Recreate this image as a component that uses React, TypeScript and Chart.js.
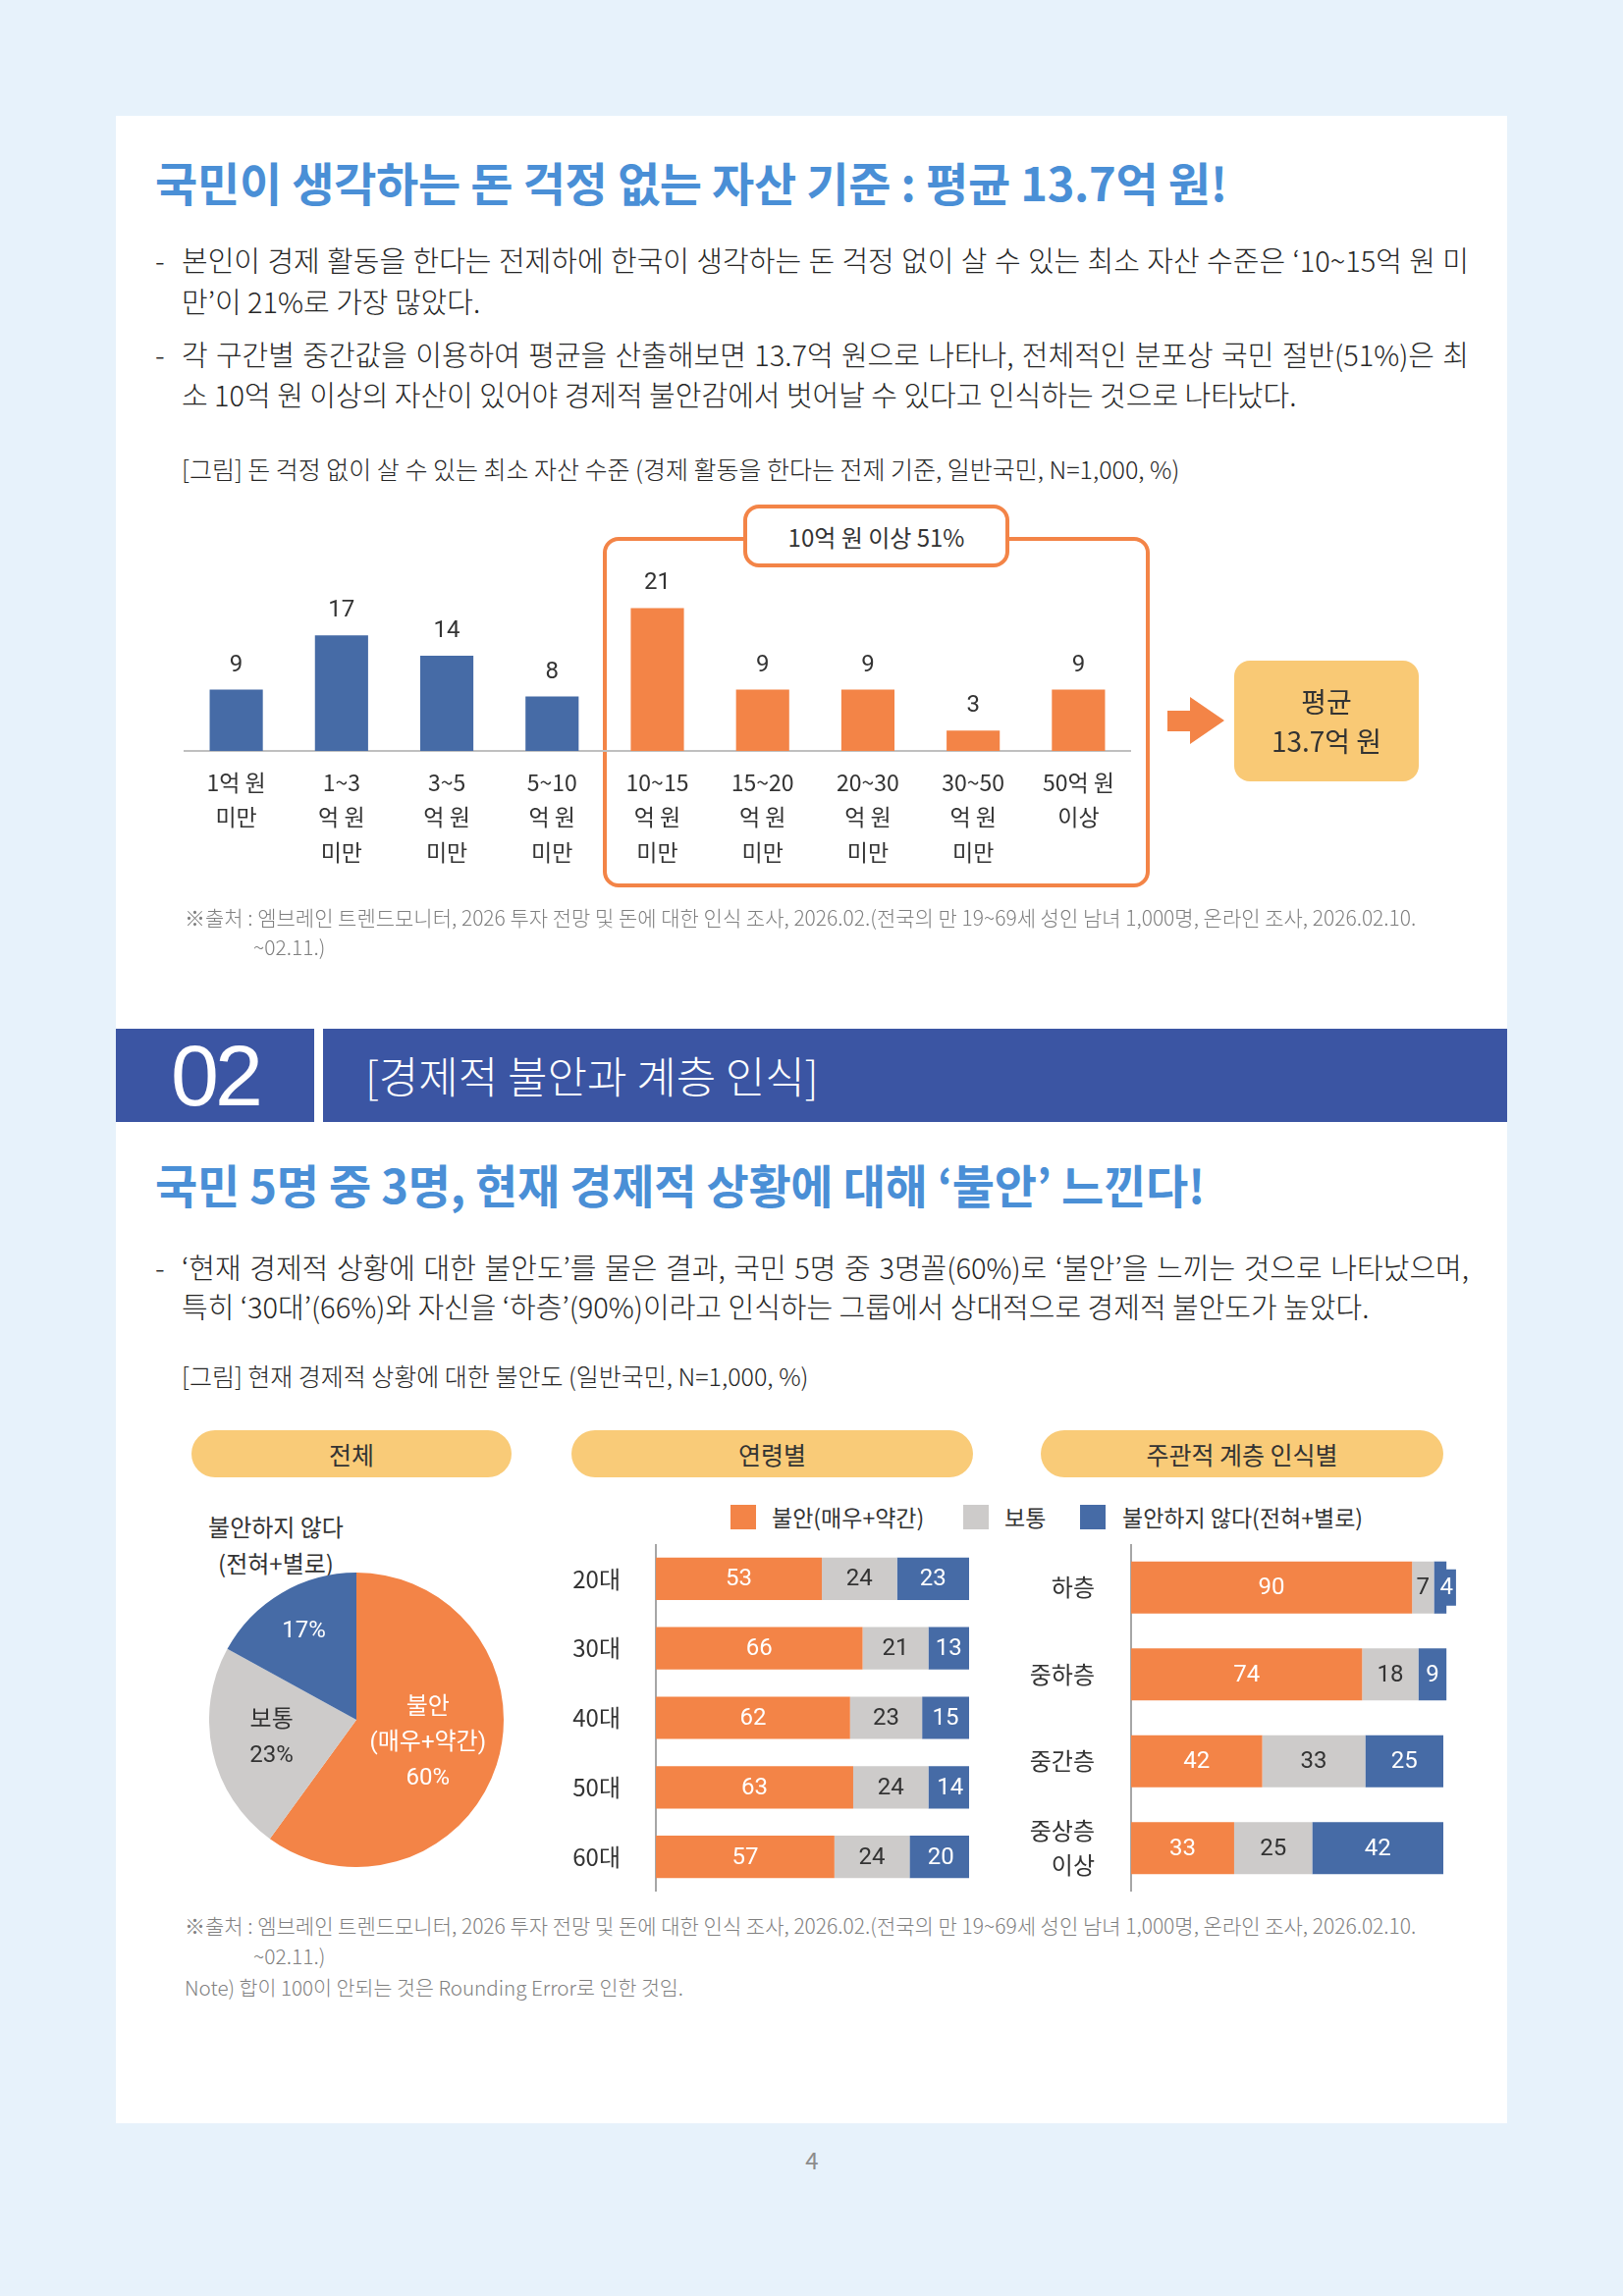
import React, { useEffect, useRef } from "react";
import { Chart, registerables } from "chart.js";

Chart.register(...registerables);

const FONT = "'Noto Sans CJK KR', 'Noto Sans', sans-serif";
const NUM_FONT = "Roboto, 'Noto Sans CJK KR', sans-serif";

const BG = "#e7f2fb";
const TITLE_BLUE = "#4a8fd6";
const BAND = "#3b55a3";
const BLUE = "#466ba6";
const ORANGE = "#f38447";
const GRAY = "#cdcbca";
const PILL = "#f9cb78";
const TEXT = "#333333";
const BODY_TEXT = "#262626";
const NOTE = "#7f7f7f";

// 돈 걱정 없이 살 수 있는 최소 자산 수준 (%)
const assetLabels = [
  ["1억 원", "미만"],
  ["1~3", "억 원", "미만"],
  ["3~5", "억 원", "미만"],
  ["5~10", "억 원", "미만"],
  ["10~15", "억 원", "미만"],
  ["15~20", "억 원", "미만"],
  ["20~30", "억 원", "미만"],
  ["30~50", "억 원", "미만"],
  ["50억 원", "이상"],
];
const assetShares = [9, 17, 14, 8, 21, 9, 9, 3, 9];
const assetIsHigh = [false, false, false, false, true, true, true, true, true];
const highGroupLabel = "10억 원 이상 51%";
const averageLines = ["평균", "13.7억 원"];

// 현재 경제적 상황에 대한 불안도 - 전체 (%)
const seriesNames = ["불안(매우+약간)", "보통", "불안하지 않다(전혀+별로)"];
const overallShares = [60, 23, 17];
const overallInnerNames = [["불안", "(매우+약간)"], ["보통"], []];
const overallOuterName = ["불안하지 않다", "(전혀+별로)"];

// 연령별 (%)
const ageGroups = ["20대", "30대", "40대", "50대", "60대"];
const ageAnxious = [53, 66, 62, 63, 57];
const ageNeutral = [24, 21, 23, 24, 24];
const ageCalm = [23, 13, 15, 14, 20];

// 주관적 계층 인식별 (%)
const classGroups = ["하층", "중하층", "중간층", ["중상층", "이상"]];
const classAnxious = [90, 74, 42, 33];
const classNeutral = [7, 18, 33, 25];
const classCalm = [4, 9, 25, 42];

const seriesColors = [ORANGE, GRAY, BLUE];
const seriesTextColors = ["#ffffff", TEXT, "#ffffff"];

// value above each column
const columnValueLabels = {
  id: "columnValueLabels",
  afterDatasetsDraw(chart: any, _args: any, opts: any) {
    const ctx = chart.ctx;
    ctx.save();
    ctx.font = opts.font;
    ctx.fillStyle = opts.color;
    ctx.textAlign = "center";
    ctx.textBaseline = "middle";
    const ds = chart.data.datasets[0];
    chart.getDatasetMeta(0).data.forEach((bar: any, i: number) => {
      ctx.fillText(String(ds.data[i]), bar.x, bar.y - opts.offset);
    });
    ctx.restore();
  },
};

// value in the middle of each stacked segment
const segmentLabels = {
  id: "segmentLabels",
  afterDatasetsDraw(chart: any, _args: any, opts: any) {
    const ctx = chart.ctx;
    ctx.save();
    ctx.font = opts.font;
    ctx.textAlign = "center";
    ctx.textBaseline = "middle";
    chart.data.datasets.forEach((ds: any, di: number) => {
      chart.getDatasetMeta(di).data.forEach((bar: any, i: number) => {
        const text = String(ds.data[i]);
        const left = Math.min(bar.x, bar.base);
        const right = Math.max(bar.x, bar.base);
        const tw = ctx.measureText(text).width;
        let cx = (left + right) / 2;
        if (tw + 6 > right - left) {
          cx = right;
          ctx.fillStyle = ds.backgroundColor;
          ctx.fillRect(cx - tw / 2 - 3, bar.y - opts.boxHeight / 2, tw + 6, opts.boxHeight);
        }
        ctx.fillStyle = opts.colors[di];
        ctx.fillText(text, cx, bar.y + 1);
      });
    });
    ctx.restore();
  },
};

// names and shares inside the pie slices
const sliceLabels = {
  id: "sliceLabels",
  afterDatasetsDraw(chart: any, _args: any, opts: any) {
    const ctx = chart.ctx;
    ctx.save();
    ctx.font = opts.font;
    ctx.textAlign = "center";
    ctx.textBaseline = "middle";
    const ds = chart.data.datasets[0];
    chart.getDatasetMeta(0).data.forEach((arc: any, i: number) => {
      const p = arc.getProps(["x", "y", "startAngle", "endAngle", "outerRadius"], true);
      const mid = (p.startAngle + p.endAngle) / 2;
      const r = p.outerRadius * opts.radii[i];
      const cx = p.x + Math.cos(mid) * r;
      const cy = p.y + Math.sin(mid) * r;
      const lines = [...opts.names[i], `${ds.data[i]}%`];
      ctx.fillStyle = opts.colors[i];
      lines.forEach((t: string, k: number) => {
        ctx.fillText(t, cx, cy + (k - (lines.length - 1) / 2) * opts.lineHeight);
      });
    });
    ctx.restore();
  },
};

function stackedConfig(labels: any[], values: number[][], axisWidth: number, pad: number, thickness: number, rightPad: number) {
  return {
    type: "bar" as const,
    data: {
      labels,
      datasets: values.map((v, i) => ({
        label: seriesNames[i],
        data: v,
        backgroundColor: seriesColors[i],
        barPercentage: thickness,
        categoryPercentage: 1,
        clip: false as const,
      })),
    },
    options: {
      indexAxis: "y" as const,
      animation: false as const,
      responsive: false,
      layout: { padding: { right: rightPad } },
      plugins: {
        legend: { display: false },
        tooltip: { enabled: false },
        segmentLabels: { font: `24px ${NUM_FONT}`, colors: seriesTextColors, boxHeight: 37 },
      },
      scales: {
        x: { display: false, stacked: true, min: 0, max: 100 },
        y: {
          stacked: true,
          grid: { display: false, drawTicks: false },
          border: { display: true, color: "#a6a6a6", width: 2 },
          ticks: { color: TEXT, font: { family: FONT, size: 24, lineHeight: 1.45 }, padding: pad, autoSkip: false },
          afterFit: (s: any) => {
            s.width = axisWidth;
            s.paddingTop = 0;
            s.paddingBottom = 0;
          },
        },
      },
    },
    plugins: [segmentLabels],
  };
}

type LineProps = {
  x: number;
  y: number;
  w?: number;
  size: number;
  text: string;
  justify?: boolean;
  color?: string;
  weight?: number;
  ls?: number;
  align?: "left" | "center" | "right";
  family?: string;
};

function Line({ x, y, w, size, text, justify, color, weight, ls, align, family }: LineProps) {
  const h = Math.round(size * 1.5);
  return (
    <div
      style={{
        position: "absolute",
        left: x,
        top: y - h / 2,
        width: w,
        height: h,
        lineHeight: `${h}px`,
        fontSize: size,
        fontWeight: weight ?? 400,
        color: color ?? TEXT,
        letterSpacing: ls ?? 0,
        whiteSpace: "nowrap",
        fontFamily: family ?? FONT,
        textAlign: justify ? "justify" : align ?? "left",
        textAlignLast: justify ? "justify" : align ?? "left",
      } as React.CSSProperties}
    >
      {text}
    </div>
  );
}

function Pill({ x, y, w, text }: { x: number; y: number; w: number; text: string }) {
  return (
    <div
      style={{
        position: "absolute",
        left: x,
        top: y,
        width: w,
        height: 48,
        borderRadius: 24,
        background: PILL,
        display: "flex",
        alignItems: "center",
        justifyContent: "center",
        fontSize: 25,
        color: TEXT,
      }}
    >
      {text}
    </div>
  );
}

function Swatch({ x, color }: { x: number; color: string }) {
  return <div style={{ position: "absolute", left: x, top: 1533, width: 26, height: 25, background: color }} />;
}

const BODY = 29;
const LIGHT = 300;
const SOURCE = 21;

export default function App() {
  const colRef = useRef<HTMLCanvasElement>(null);
  const pieRef = useRef<HTMLCanvasElement>(null);
  const ageRef = useRef<HTMLCanvasElement>(null);
  const classRef = useRef<HTMLCanvasElement>(null);

  useEffect(() => {
    const charts: Chart[] = [];

    charts.push(
      new Chart(colRef.current!, {
        type: "bar",
        data: {
          labels: assetLabels,
          datasets: [
            {
              data: assetShares,
              backgroundColor: assetIsHigh.map((h) => (h ? ORANGE : BLUE)),
              barPercentage: 0.505,
              categoryPercentage: 1,
            },
          ],
        },
        options: {
          animation: false,
          responsive: false,
          plugins: {
            legend: { display: false },
            tooltip: { enabled: false },
            columnValueLabels: { offset: 25, font: `24px ${NUM_FONT}`, color: TEXT },
          } as any,
          scales: {
            x: {
              grid: { display: false, drawTicks: false },
              border: { display: true, color: "#bfbfbf", width: 2 },
              ticks: {
                color: TEXT,
                font: { family: FONT, size: 23, lineHeight: 1.55 },
                padding: 14,
                maxRotation: 0,
                autoSkip: false,
              },
              afterFit: (s: any) => {
                s.height = 155;
              },
            },
            y: { display: false, min: 0, max: 30 },
          },
        },
        plugins: [columnValueLabels],
      })
    );

    charts.push(
      new Chart(pieRef.current!, {
        type: "pie",
        data: {
          labels: seriesNames,
          datasets: [{ data: overallShares, backgroundColor: seriesColors, borderWidth: 0 }],
        },
        options: {
          animation: false,
          responsive: false,
          plugins: {
            legend: { display: false },
            tooltip: { enabled: false },
            sliceLabels: {
              font: `24px ${NUM_FONT}`,
              colors: seriesTextColors,
              names: overallInnerNames,
              radii: [0.51, 0.59, 0.7],
              lineHeight: 36,
            },
          } as any,
        },
        plugins: [sliceLabels],
      })
    );

    charts.push(new Chart(ageRef.current!, stackedConfig(ageGroups, [ageAnxious, ageNeutral, ageCalm], 98, 36, 0.61, 0) as any));
    charts.push(
      new Chart(classRef.current!, stackedConfig(classGroups, [classAnxious, classNeutral, classCalm], 112, 37, 0.6, 20) as any)
    );

    return () => charts.forEach((c) => c.destroy());
  }, []);

  return (
    <div
      style={{
        position: "absolute",
        left: 0,
        top: 0,
        width: 1653,
        height: 2339,
        background: BG,
        fontFamily: FONT,
        color: TEXT,
        overflow: "hidden",
      }}
    >
      <div style={{ position: "absolute", left: 118, top: 118, width: 1417, height: 2045, background: "#ffffff" }} />

      {/* 1. 돈 걱정 없는 자산 기준 */}
      <Line x={158} y={184} size={47} weight={700} color={TITLE_BLUE} ls={-0.3} text="국민이 생각하는 돈 걱정 없는 자산 기준 : 평균 13.7억 원!" />
      <Line x={158} y={264} size={BODY} weight={LIGHT} color={BODY_TEXT} text="-" />
      <Line x={185} y={264} w={1311} size={BODY} weight={LIGHT} color={BODY_TEXT} justify text="본인이 경제 활동을 한다는 전제하에 한국이 생각하는 돈 걱정 없이 살 수 있는 최소 자산 수준은 ‘10~15억 원 미" />
      <Line x={185} y={306} size={BODY} weight={LIGHT} color={BODY_TEXT} text="만’이 21%로 가장 많았다." />
      <Line x={158} y={360} size={BODY} weight={LIGHT} color={BODY_TEXT} text="-" />
      <Line x={185} y={360} w={1311} size={BODY} weight={LIGHT} color={BODY_TEXT} justify text="각 구간별 중간값을 이용하여 평균을 산출해보면 13.7억 원으로 나타나, 전체적인 분포상 국민 절반(51%)은 최" />
      <Line x={185} y={401} size={BODY} weight={LIGHT} color={BODY_TEXT} text="소 10억 원 이상의 자산이 있어야 경제적 불안감에서 벗어날 수 있다고 인식하는 것으로 나타났다." />
      <Line x={185} y={477} size={25} weight={LIGHT} color={BODY_TEXT} text="[그림] 돈 걱정 없이 살 수 있는 최소 자산 수준 (경제 활동을 한다는 전제 기준, 일반국민, N=1,000, %)" />

      <div
        style={{
          position: "absolute",
          left: 614,
          top: 547,
          width: 557,
          height: 357,
          border: `4px solid ${ORANGE}`,
          borderRadius: 16,
          boxSizing: "border-box",
        }}
      />
      <canvas ref={colRef} width={965} height={363} style={{ position: "absolute", left: 187, top: 557 }} />
      <div
        style={{
          position: "absolute",
          left: 757,
          top: 514,
          width: 271,
          height: 64,
          border: `4px solid ${ORANGE}`,
          borderRadius: 16,
          background: "#ffffff",
          boxSizing: "border-box",
          display: "flex",
          alignItems: "center",
          justifyContent: "center",
          fontSize: 24,
        }}
      >
        {highGroupLabel}
      </div>
      <svg style={{ position: "absolute", left: 0, top: 0 }} width={1653} height={900}>
        <polygon points="1189,724 1212,724 1212,710 1247,734 1212,758 1212,745 1189,745" fill={ORANGE} />
      </svg>
      <div
        style={{
          position: "absolute",
          left: 1257,
          top: 673,
          width: 188,
          height: 123,
          borderRadius: 16,
          background: "#f9c975",
        }}
      />
      <Line x={1257} y={714} w={188} size={28} align="center" text={averageLines[0]} />
      <Line x={1257} y={754} w={188} size={28} align="center" text={averageLines[1]} />

      <Line x={188} y={934} size={SOURCE} weight={LIGHT} color={NOTE} text="※출처 : 엠브레인 트렌드모니터, 2026 투자 전망 및 돈에 대한 인식 조사, 2026.02.(전국의 만 19~69세 성인 남녀 1,000명, 온라인 조사, 2026.02.10." />
      <Line x={258} y={964} size={SOURCE} weight={LIGHT} color={NOTE} text="~02.11.)" />

      {/* 2. 경제적 불안과 계층 인식 */}
      <div style={{ position: "absolute", left: 118, top: 1048, width: 202, height: 95, background: BAND }} />
      <div style={{ position: "absolute", left: 329, top: 1048, width: 1206, height: 95, background: BAND }} />
      <Line x={118} y={1096} w={202} size={88} align="center" color="#ffffff" ls={-4} family="'Liberation Sans', Arial, sans-serif" text="02" />
      <Line x={372} y={1095} size={44} weight={LIGHT} color="#ffffff" text="[경제적 불안과 계층 인식]" />

      <Line x={158} y={1205} size={47} weight={700} color={TITLE_BLUE} ls={-0.3} text="국민 5명 중 3명, 현재 경제적 상황에 대해 ‘불안’ 느낀다!" />
      <Line x={158} y={1290} size={BODY} weight={LIGHT} color={BODY_TEXT} text="-" />
      <Line x={185} y={1290} w={1311} size={BODY} weight={LIGHT} color={BODY_TEXT} justify text="‘현재 경제적 상황에 대한 불안도’를 물은 결과, 국민 5명 중 3명꼴(60%)로 ‘불안’을 느끼는 것으로 나타났으며," />
      <Line x={185} y={1330} size={BODY} weight={LIGHT} color={BODY_TEXT} text="특히 ‘30대’(66%)와 자신을 ‘하층’(90%)이라고 인식하는 그룹에서 상대적으로 경제적 불안도가 높았다." />
      <Line x={185} y={1401} size={25} weight={LIGHT} color={BODY_TEXT} text="[그림] 현재 경제적 상황에 대한 불안도 (일반국민, N=1,000, %)" />

      <Pill x={195} y={1457} w={326} text="전체" />
      <Pill x={582} y={1457} w={409} text="연령별" />
      <Pill x={1060} y={1457} w={410} text="주관적 계층 인식별" />

      <Swatch x={744} color={ORANGE} />
      <Line x={786} y={1545} size={23} text={seriesNames[0]} />
      <Swatch x={981} color={GRAY} />
      <Line x={1023} y={1545} size={23} text={seriesNames[1]} />
      <Swatch x={1100} color={BLUE} />
      <Line x={1143} y={1545} size={23} text={seriesNames[2]} />

      <Line x={181} y={1555} w={200} size={24} align="center" text={overallOuterName[0]} />
      <Line x={181} y={1592} w={200} size={24} align="center" text={overallOuterName[1]} />
      <canvas ref={pieRef} width={300} height={300} style={{ position: "absolute", left: 213, top: 1602 }} />
      <canvas ref={ageRef} width={417} height={354} style={{ position: "absolute", left: 570, top: 1573 }} />
      <canvas ref={classRef} width={450} height={354} style={{ position: "absolute", left: 1040, top: 1573 }} />

      <Line x={188} y={1961} size={SOURCE} weight={LIGHT} color={NOTE} text="※출처 : 엠브레인 트렌드모니터, 2026 투자 전망 및 돈에 대한 인식 조사, 2026.02.(전국의 만 19~69세 성인 남녀 1,000명, 온라인 조사, 2026.02.10." />
      <Line x={258} y={1992} size={SOURCE} weight={LIGHT} color={NOTE} text="~02.11.)" />
      <Line x={188} y={2024} size={20.6} weight={LIGHT} color={NOTE} text="Note) 합이 100이 안되는 것은 Rounding Error로 인한 것임." />

      <Line x={777} y={2200} w={100} size={24} align="center" color="#8c8c8c" text="4" />
    </div>
  );
}
